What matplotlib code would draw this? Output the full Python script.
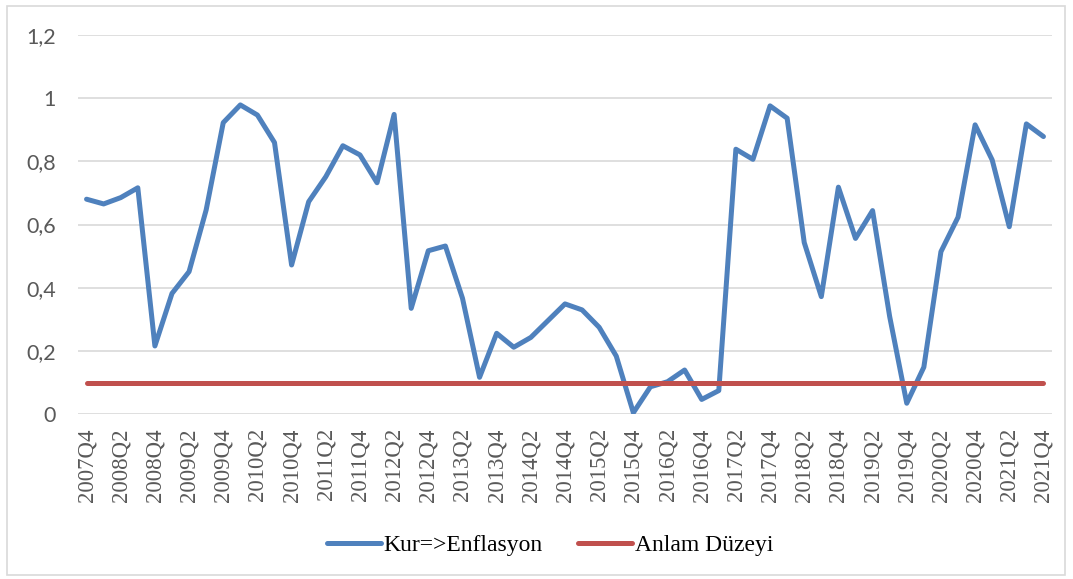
import matplotlib.pyplot as plt
from matplotlib.patches import Rectangle

quarters = [f"{y}Q{q}" for y in range(2007, 2022) for q in range(1, 5)][3:]
kur_enflasyon = [0.68, 0.665, 0.685, 0.716, 0.216, 0.382, 0.451, 0.646, 0.922, 0.978,
                 0.946, 0.859, 0.472, 0.672, 0.751, 0.849, 0.82, 0.732, 0.948, 0.335,
                 0.517, 0.532, 0.367, 0.117, 0.256, 0.212, 0.243, 0.296, 0.349, 0.33,
                 0.275, 0.184, 0.005, 0.087, 0.103, 0.14, 0.047, 0.075, 0.838, 0.806,
                 0.975, 0.936, 0.543, 0.372, 0.718, 0.556, 0.644, 0.309, 0.035, 0.149,
                 0.514, 0.623, 0.915, 0.804, 0.593, 0.918, 0.878]
anlam_duzeyi = [0.1] * len(quarters)
yticks = [0, 0.2, 0.4, 0.6, 0.8, 1, 1.2]
ytick_labels = ["0", "0,2", "0,4", "0,6", "0,8", "1", "1,2"]

fig = plt.figure(figsize=(10.73, 5.79), dpi=100)
ax = fig.add_axes([78 / 1073, 1 - 414.3 / 579, (1052 - 78) / 1073, (414.3 - 34.7) / 579])

x = range(len(quarters))
ax.plot(x, kur_enflasyon, color='#4F81BD', lw=3.6, solid_joinstyle='round',
        solid_capstyle='round', label='Kur=>Enflasyon')
ax.plot(x, anlam_duzeyi, color='#C0504D', lw=3.6, solid_capstyle='round',
        label='Anlam Düzeyi')

ax.set_xlim(-0.5, len(quarters) - 0.5)
ax.set_ylim(0, 1.2)
ax.set_yticks(yticks)
ax.set_yticklabels(ytick_labels, fontfamily='Lato', fontsize=15.5, color='#595959')
ax.set_xticks(list(x)[::2])
ax.set_xticklabels(quarters[::2], rotation=90, fontfamily='Liberation Serif',
                   fontsize=16.5, color='#595959')
ax.tick_params(axis='both', length=0)
ax.tick_params(axis='x', pad=10)
ax.tick_params(axis='y', pad=16)
ax.grid(axis='y', color='#D9D9D9', lw=1.2)
ax.set_axisbelow(True)
for s in ax.spines.values():
    s.set_visible(False)

fig.legend(loc='center', bbox_to_anchor=(550 / 1073, 34 / 579), ncol=2, frameon=False,
           prop={'family': 'Liberation Serif', 'size': 17}, handlelength=2.3,
           handletextpad=0.1, columnspacing=1.5)

fig.patches.append(Rectangle((7 / 1073, 4 / 579), 1058 / 1073, 569 / 579,
                             transform=fig.transFigure, fill=False,
                             edgecolor='#D9D9D9', lw=1.2))

fig.savefig('out.png', dpi=100)
